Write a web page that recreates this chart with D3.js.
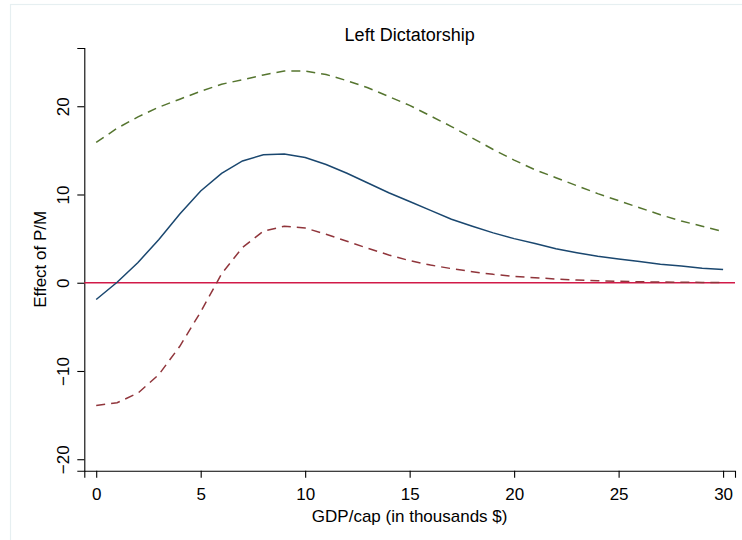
<!DOCTYPE html>
<html>
<head>
<meta charset="utf-8">
<script src="https://cdn.jsdelivr.net/npm/d3@7"></script>
<style>
    body { margin: 0; background: #ffffff; }
    #chart-area { width: 742px; height: 540px; }
    text { font-family: "Liberation Sans", Arial, sans-serif; fill: #000; }
</style>
</head>
<body>
<div id="chart-area"></div>
<script>

// GDP per capita (thousands $) at which the effect was evaluated
let gdpCap = [0, 1, 2, 3, 4, 5, 6, 7, 8, 9, 10, 11, 12, 13, 14, 15, 16, 17, 18, 19, 20,
              21, 22, 23, 24, 25, 26, 27, 28, 29, 30];

// estimated effect of P/M
let effect = [-1.9, 0.05, 2.3, 4.9, 7.8, 10.4, 12.4, 13.8, 14.5, 14.6, 14.2, 13.4, 12.4, 11.3,
              10.2, 9.2, 8.2, 7.2, 6.4, 5.65, 5.0, 4.45, 3.85, 3.4, 3.0, 2.7, 2.4, 2.1, 1.9, 1.65, 1.5];

// upper and lower confidence bounds
let upperCI = [15.9, 17.5, 18.8, 19.9, 20.8, 21.7, 22.5, 23.0, 23.55, 24.0, 24.0, 23.6, 22.9, 22.1,
               21.1, 20.1, 18.9, 17.7, 16.4, 15.1, 13.9, 12.8, 11.9, 11.0, 10.1, 9.3, 8.5, 7.7, 7.0, 6.4, 5.8];
let lowerCI = [-13.9, -13.6, -12.5, -10.4, -7.2, -3.3, 1.0, 4.0, 5.85, 6.4, 6.2, 5.5, 4.7, 3.9,
               3.15, 2.5, 2.0, 1.6, 1.25, 0.95, 0.72, 0.57, 0.42, 0.3, 0.23, 0.16, 0.11, 0.08, 0.05, 0.04, 0.03];

let xTicks = [0, 5, 10, 15, 20, 25, 30];
let yTicks = [-20, -10, 0, 10, 20];

class effectVis {

    constructor(parentElement) {
        this.parentElement = parentElement

        this.initVis()
    }

    initVis() {
        let vis = this;

        vis.width = 742;
        vis.height = 540;
        // plot region, matched to the stata layout
        vis.plot = {left: 84.3, right: 735, top: 48, bottom: 470.7};

        vis.svg = d3.select("#" + vis.parentElement).append("svg")
            .attr("width", vis.width)
            .attr("height", vis.height);

        // faint outer frame
        vis.svg.append("rect")
            .attr("x", 10.5).attr("y", 4.5)
            .attr("width", 800).attr("height", 600)
            .attr("fill", "none")
            .attr("stroke", "#e6eff1")
            .attr("stroke-width", 1.2);

        vis.xScale = d3.scaleLinear()
            .domain([-0.57, 30.57])
            .range([vis.plot.left, vis.plot.right]);

        vis.yScale = d3.scaleLinear()
            .domain([-21.3, 26.6])
            .range([vis.plot.bottom, vis.plot.top]);

        vis.xAxis = d3.axisBottom(vis.xScale).tickValues(xTicks).tickSize(7).tickPadding(4);
        vis.yAxis = d3.axisLeft(vis.yScale).tickValues(yTicks).tickSize(7).tickPadding(4);

        vis.xAxisG = vis.svg.append("g")
            .attr("class", "axis x-axis")
            .attr("transform", `translate(0,${vis.plot.bottom})`)
            .call(vis.xAxis);

        vis.yAxisG = vis.svg.append("g")
            .attr("class", "axis y-axis")
            .attr("transform", `translate(${vis.plot.left},0)`)
            .call(vis.yAxis);

        vis.svg.selectAll(".axis path.domain").attr("stroke", "#000").attr("stroke-width", 1.1);
        vis.svg.selectAll(".axis .tick line").attr("stroke", "#000").attr("stroke-width", 1.1);
        vis.svg.selectAll(".axis text")
            .style("font-family", "'Liberation Sans', Arial, sans-serif")
            .style("font-size", "17px")
            .attr("fill", "#000");

        // rotate y tick labels like stata does
        vis.yAxisG.selectAll(".tick text")
            .attr("transform", "rotate(-90)")
            .attr("x", 0)
            .attr("y", -15)
            .attr("dy", 0)
            .style("text-anchor", "middle");

        vis.xAxisG.selectAll(".tick text").attr("dy", "1.05em");

        // titles
        vis.svg.append("text")
            .attr("x", (vis.plot.left + vis.plot.right) / 2)
            .attr("y", 41)
            .attr("text-anchor", "middle")
            .style("font-size", "18px")
            .text("Left Dictatorship");

        vis.svg.append("text")
            .attr("x", (vis.plot.left + vis.plot.right) / 2)
            .attr("y", 522)
            .attr("text-anchor", "middle")
            .style("font-size", "17px")
            .text("GDP/cap (in thousands $)");

        vis.svg.append("text")
            .attr("transform", `translate(46,${(vis.plot.top + vis.plot.bottom) / 2}) rotate(-90)`)
            .attr("text-anchor", "middle")
            .style("font-size", "17px")
            .text("Effect of P/M");

        vis.wrangleData()
    }

    wrangleData() {
        let vis = this

        vis.displayData = gdpCap.map((g, i) => ({
            gdp: g,
            effect: effect[i],
            upper: upperCI[i],
            lower: lowerCI[i]
        }));

        vis.updateVis()
    }

    updateVis() {
        let vis = this;

        // zero reference line
        vis.svg.append("line")
            .attr("x1", vis.plot.left).attr("x2", vis.plot.right)
            .attr("y1", vis.yScale(0)).attr("y2", vis.yScale(0))
            .attr("stroke", "#d11a48")
            .attr("stroke-width", 1.6);

        let series = [
            {key: "upper", color: "#55752f", dash: "9,6"},
            {key: "lower", color: "#90353b", dash: "9,6"},
            {key: "effect", color: "#1a476f", dash: null}
        ];

        series.forEach(s => {
            let line = d3.line()
                .x(d => vis.xScale(d.gdp))
                .y(d => vis.yScale(d[s.key]));

            vis.svg.append("path")
                .datum(vis.displayData)
                .attr("d", line)
                .attr("fill", "none")
                .attr("stroke", s.color)
                .attr("stroke-width", 1.5)
                .attr("stroke-dasharray", s.dash);
        });
    }
}

new effectVis("chart-area");

</script>
</body>
</html>
